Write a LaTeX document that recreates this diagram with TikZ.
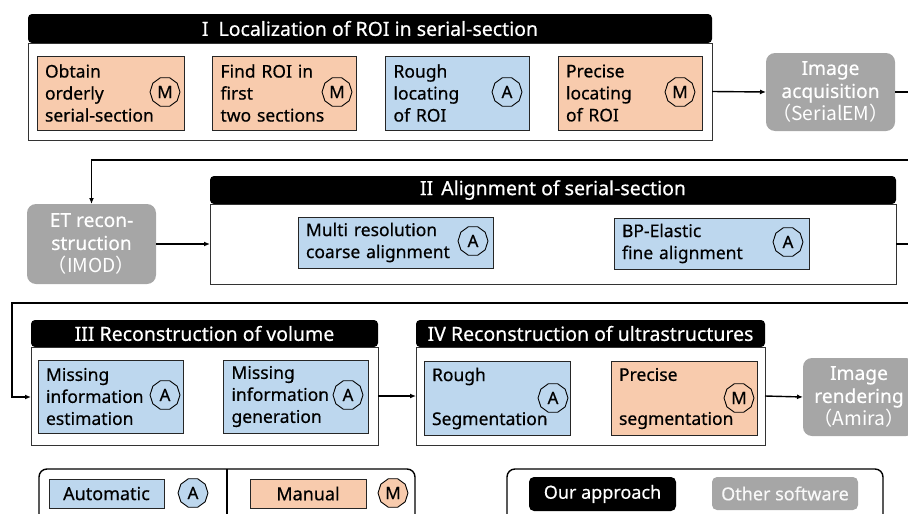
\documentclass[tikz,border=0pt]{standalone}
\usepackage{fontspec}
\setmainfont{Noto Sans}[FakeBold=0.5]
\newfontfamily\cjk{Noto Sans CJK SC}
\usetikzlibrary{shapes.geometric,arrows.meta}
\definecolor{orng}{HTML}{F8CBAD}
\definecolor{blu}{HTML}{BDD7EE}
\definecolor{gry}{HTML}{A6A6A6}
\begin{document}
\begin{tikzpicture}[x=1pt,y=-1pt,
 every node/.style={inner sep=0pt, outer sep=0pt},
 hdr/.style={fill=black, rounded corners=4pt, text=white, font=\fontsize{19.5}{22}\selectfont},
 body/.style={draw=black!80, line width=1pt, fill=white},
 task/.style={draw=black!85, line width=1pt, align=left, font=\fontsize{17.5}{22}\selectfont, inner xsep=8pt},
 autotask/.style={task, fill=blu},
 mantask/.style={task, fill=orng},
 badge/.style={regular polygon, regular polygon sides=10, draw, line width=0.9pt, minimum size=30pt, font=\fontsize{17}{17}\selectfont},
 soft/.style={fill=gry, rounded corners=9pt, text=white, align=center, font=\fontsize{19.2}{23}\selectfont},
 conn/.style={line width=1.4pt, -{Latex[length=6pt,width=5pt]}},
 legtext/.style={font=\fontsize{18}{20}\selectfont},
 legframe/.style={draw, line width=1.4pt, rounded corners=8pt, minimum width=376, minimum height=56, anchor=north west}
]
\useasboundingbox (0,0) rectangle (908,514);

% ---- Stage I
\node[hdr, minimum width=684, minimum height=29] (h1) at (370,28.5) {I\hspace{10pt}Localization of ROI in serial-section};
\node[body, minimum width=684, minimum height=97, anchor=north] (b1) at (h1.south) {};
\node[mantask, text width=131, minimum height=74] (t11) at (110.5,93) {Obtain\\orderly\\serial-section};
\node[badge] (m11) at (165,92) {M};
\node[mantask, text width=128, minimum height=74] (t12) at (284.5,93) {Find ROI in\\first\\two sections};
\node[badge] (m12) at (337,92) {M};
\node[autotask, text width=128, minimum height=74] (t13) at (457.5,93) {Rough\\locating\\of ROI};
\node[badge] (a13) at (507,92) {A};
\node[mantask, text width=128, minimum height=74] (t14) at (630,93) {Precise\\locating\\of ROI};
\node[badge] (m14) at (680,92) {M};

\node[soft, minimum width=129, minimum height=78] (acq) at (830.5,92) {Image\\acquisition\\\cjk{（}SerialEM\cjk{）}};

% ---- Stage II
\node[soft, minimum width=129, minimum height=80] (et) at (91.5,244) {ET recon-\\struction\\\cjk{（}IMOD\cjk{）}};
\node[hdr, minimum width=686, minimum height=28] (h2) at (553,190) {II\hspace{8pt}Alignment of serial-section};
\node[body, minimum width=686, minimum height=80, anchor=north] (b2) at (h2.south) {};
\node[autotask, text width=179, minimum height=51] (t21) at (395.5,242.5) {Multi resolution\\coarse alignment};
\node[badge] (a21) at (473,241) {A};
\node[autotask, text width=179, minimum height=51] (t22) at (711.5,243.5) {BP-Elastic\\fine alignment};
\node[badge] (a22) at (788,242) {A};

% ---- Stage III
\node[hdr, minimum width=347, minimum height=27] (h3) at (204.5,333.5) {III Reconstruction of volume};
\node[body, minimum width=347, minimum height=98, anchor=north] (b3) at (h3.south) {};
\node[autotask, text width=129, minimum height=73] (t31) at (110.5,396.5) {Missing\\information\\estimation};
\node[badge] (a31) at (165,395) {A};
\node[autotask, text width=129, minimum height=73] (t32) at (296,396.5) {Missing\\information\\generation};
\node[badge] (a32) at (348,395) {A};

% ---- Stage IV
\node[hdr, minimum width=349, minimum height=27] (h4) at (590.5,333.5) {IV Reconstruction of ultrastructures};
\node[body, minimum width=349, minimum height=98, anchor=north] (b4) at (h4.south) {};
\node[autotask, text width=130, minimum height=74] (t41) at (497,398.5) {Rough\\\mbox{}\\Segmentation};
\node[badge] (a41) at (553,398) {A};
\node[mantask, text width=130, minimum height=74] (t42) at (684,398.5) {Precise\\\mbox{}\\segmentation};
\node[badge] (m42) at (739,398) {M};

\node[soft, minimum width=112, minimum height=78] (ren) at (859,397) {Image\\rendering\\\cjk{（}Amira\cjk{）}};

% ---- connectors
\coordinate (c1) at (920,160);
\coordinate (c2) at (920,303);
\coordinate (c3) at (12,397);
\draw[conn] (b1.east) -- (acq.west);
\draw[conn] (acq.east) -| (c1) -| (et.north);
\draw[conn] (et.east) -- (b2.west);
\draw[conn] (b2.east) -| (c2) -| (c3) -- (c3 -| b3.west);
\draw[conn] (b3.east) -- (b4.west);
\draw[conn] (b4.east) -- (ren.west);

% ---- legends
\node[legframe] (leg1) at (39,469) {};
\coordinate (dv) at (227,469);
\draw[line width=1.4pt] (dv) -- (dv |- leg1.south);
\node[task, legtext, fill=blu, minimum width=115, minimum height=29, align=center] (lauto) at (106.5,493.5) {Automatic};
\node[badge, fill=blu] (la) at (193,493) {A};
\node[task, legtext, fill=orng, minimum width=116, minimum height=29, align=center] (lman) at (308,493.5) {Manual};
\node[badge, fill=orng] (lm) at (393,493) {M};

\node[legframe] (leg2) at (507,469) {};
\node[legtext, fill=black, text=white, rounded corners=5pt, minimum width=147, minimum height=34] (lours) at (602.5,494) {Our approach};
\node[legtext, fill=gry, text=white!92!gry, rounded corners=5pt, minimum width=146, minimum height=33] (lother) at (785,493.5) {Other software};
\end{tikzpicture}
\end{document}
